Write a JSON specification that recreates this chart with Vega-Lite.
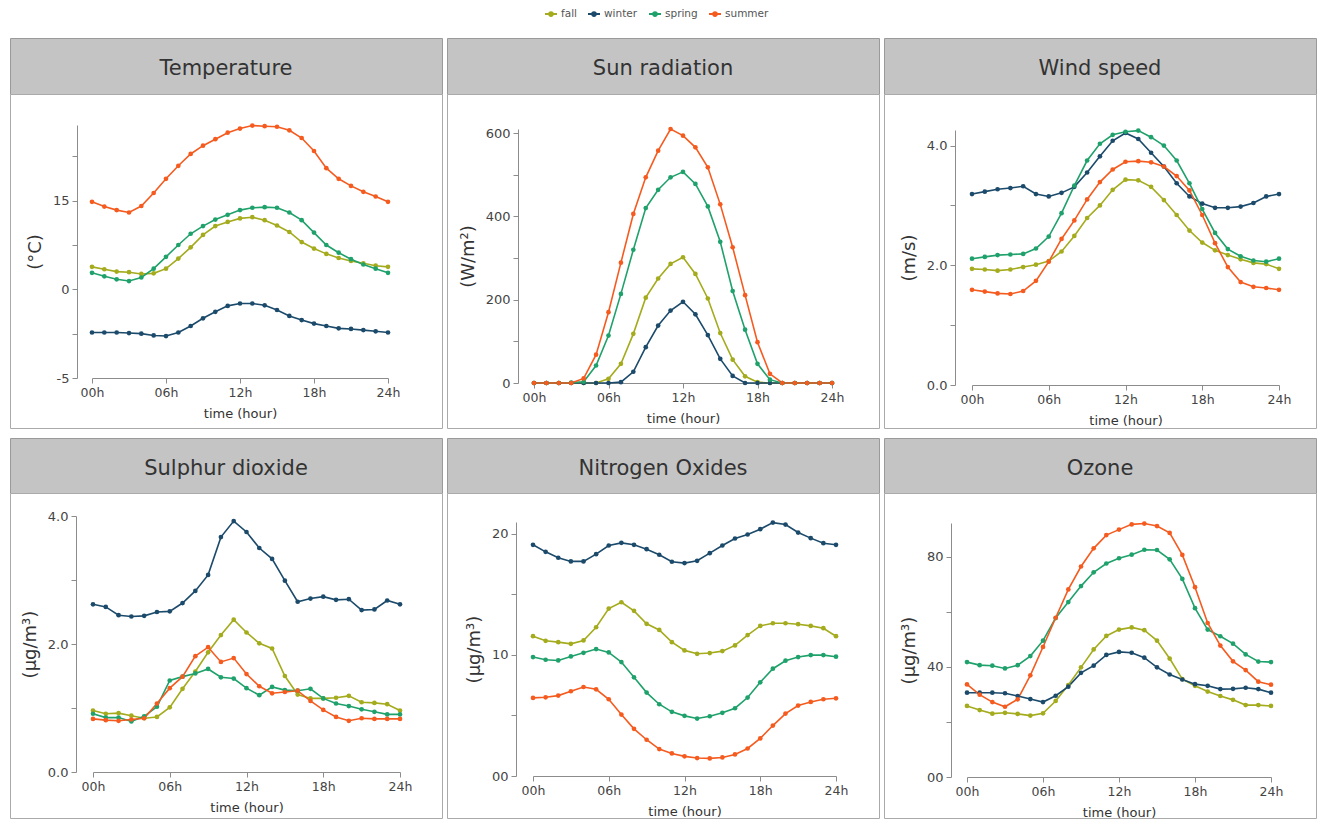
{
"$schema": "https://vega.github.io/schema/vega-lite/v6.json",
"padding": {"left": 9, "top": 7, "right": 0, "bottom": 0},
"background": "white",
"datasets": {
"temp": [
{"s":"fall","h":0,"v":3.8},{"s":"fall","h":1,"v":3.4},{"s":"fall","h":2,"v":3.0},{"s":"fall","h":3,"v":2.9},{"s":"fall","h":4,"v":2.6},{"s":"fall","h":5,"v":2.7},{"s":"fall","h":6,"v":3.5},{"s":"fall","h":7,"v":5.2},{"s":"fall","h":8,"v":7.1},{"s":"fall","h":9,"v":9.2},{"s":"fall","h":10,"v":10.7},{"s":"fall","h":11,"v":11.4},{"s":"fall","h":12,"v":12.0},{"s":"fall","h":13,"v":12.2},{"s":"fall","h":14,"v":11.7},{"s":"fall","h":15,"v":10.8},{"s":"fall","h":16,"v":9.7},{"s":"fall","h":17,"v":8.0},{"s":"fall","h":18,"v":6.9},{"s":"fall","h":19,"v":6.0},{"s":"fall","h":20,"v":5.3},{"s":"fall","h":21,"v":4.8},{"s":"fall","h":22,"v":4.4},{"s":"fall","h":23,"v":4.0},{"s":"fall","h":24,"v":3.8},
{"s":"winter","h":0,"v":-7.3},{"s":"winter","h":1,"v":-7.3},{"s":"winter","h":2,"v":-7.3},{"s":"winter","h":3,"v":-7.4},{"s":"winter","h":4,"v":-7.5},{"s":"winter","h":5,"v":-7.8},{"s":"winter","h":6,"v":-7.9},{"s":"winter","h":7,"v":-7.3},{"s":"winter","h":8,"v":-6.2},{"s":"winter","h":9,"v":-4.9},{"s":"winter","h":10,"v":-3.8},{"s":"winter","h":11,"v":-2.8},{"s":"winter","h":12,"v":-2.4},{"s":"winter","h":13,"v":-2.4},{"s":"winter","h":14,"v":-2.7},{"s":"winter","h":15,"v":-3.5},{"s":"winter","h":16,"v":-4.5},{"s":"winter","h":17,"v":-5.2},{"s":"winter","h":18,"v":-5.8},{"s":"winter","h":19,"v":-6.2},{"s":"winter","h":20,"v":-6.6},{"s":"winter","h":21,"v":-6.7},{"s":"winter","h":22,"v":-6.9},{"s":"winter","h":23,"v":-7.1},{"s":"winter","h":24,"v":-7.3},
{"s":"spring","h":0,"v":2.8},{"s":"spring","h":1,"v":2.2},{"s":"spring","h":2,"v":1.7},{"s":"spring","h":3,"v":1.4},{"s":"spring","h":4,"v":2.0},{"s":"spring","h":5,"v":3.5},{"s":"spring","h":6,"v":5.5},{"s":"spring","h":7,"v":7.5},{"s":"spring","h":8,"v":9.4},{"s":"spring","h":9,"v":10.7},{"s":"spring","h":10,"v":11.8},{"s":"spring","h":11,"v":12.6},{"s":"spring","h":12,"v":13.4},{"s":"spring","h":13,"v":13.8},{"s":"spring","h":14,"v":13.9},{"s":"spring","h":15,"v":13.8},{"s":"spring","h":16,"v":13.0},{"s":"spring","h":17,"v":11.7},{"s":"spring","h":18,"v":9.6},{"s":"spring","h":19,"v":7.5},{"s":"spring","h":20,"v":6.2},{"s":"spring","h":21,"v":5.1},{"s":"spring","h":22,"v":4.2},{"s":"spring","h":23,"v":3.5},{"s":"spring","h":24,"v":2.8},
{"s":"summer","h":0,"v":14.8},{"s":"summer","h":1,"v":14.0},{"s":"summer","h":2,"v":13.4},{"s":"summer","h":3,"v":13.0},{"s":"summer","h":4,"v":14.1},{"s":"summer","h":5,"v":16.3},{"s":"summer","h":6,"v":18.7},{"s":"summer","h":7,"v":20.9},{"s":"summer","h":8,"v":22.9},{"s":"summer","h":9,"v":24.3},{"s":"summer","h":10,"v":25.4},{"s":"summer","h":11,"v":26.5},{"s":"summer","h":12,"v":27.2},{"s":"summer","h":13,"v":27.7},{"s":"summer","h":14,"v":27.6},{"s":"summer","h":15,"v":27.5},{"s":"summer","h":16,"v":26.9},{"s":"summer","h":17,"v":25.6},{"s":"summer","h":18,"v":23.4},{"s":"summer","h":19,"v":20.5},{"s":"summer","h":20,"v":18.7},{"s":"summer","h":21,"v":17.5},{"s":"summer","h":22,"v":16.5},{"s":"summer","h":23,"v":15.7},{"s":"summer","h":24,"v":14.8}
],
"sun": [
{"s":"fall","h":0,"v":0},{"s":"fall","h":1,"v":0},{"s":"fall","h":2,"v":0},{"s":"fall","h":3,"v":0},{"s":"fall","h":4,"v":0},{"s":"fall","h":5,"v":0},{"s":"fall","h":6,"v":10},{"s":"fall","h":7,"v":46},{"s":"fall","h":8,"v":118},{"s":"fall","h":9,"v":205},{"s":"fall","h":10,"v":251},{"s":"fall","h":11,"v":286},{"s":"fall","h":12,"v":302},{"s":"fall","h":13,"v":262},{"s":"fall","h":14,"v":203},{"s":"fall","h":15,"v":120},{"s":"fall","h":16,"v":56},{"s":"fall","h":17,"v":16},{"s":"fall","h":18,"v":2},{"s":"fall","h":19,"v":0},{"s":"fall","h":20,"v":0},{"s":"fall","h":21,"v":0},{"s":"fall","h":22,"v":0},{"s":"fall","h":23,"v":0},{"s":"fall","h":24,"v":0},
{"s":"winter","h":0,"v":0},{"s":"winter","h":1,"v":0},{"s":"winter","h":2,"v":0},{"s":"winter","h":3,"v":0},{"s":"winter","h":4,"v":0},{"s":"winter","h":5,"v":0},{"s":"winter","h":6,"v":0},{"s":"winter","h":7,"v":2},{"s":"winter","h":8,"v":27},{"s":"winter","h":9,"v":86},{"s":"winter","h":10,"v":138},{"s":"winter","h":11,"v":174},{"s":"winter","h":12,"v":195},{"s":"winter","h":13,"v":165},{"s":"winter","h":14,"v":115},{"s":"winter","h":15,"v":58},{"s":"winter","h":16,"v":17},{"s":"winter","h":17,"v":0},{"s":"winter","h":18,"v":0},{"s":"winter","h":19,"v":0},{"s":"winter","h":20,"v":0},{"s":"winter","h":21,"v":0},{"s":"winter","h":22,"v":0},{"s":"winter","h":23,"v":0},{"s":"winter","h":24,"v":0},
{"s":"spring","h":0,"v":0},{"s":"spring","h":1,"v":0},{"s":"spring","h":2,"v":0},{"s":"spring","h":3,"v":1},{"s":"spring","h":4,"v":3},{"s":"spring","h":5,"v":42},{"s":"spring","h":6,"v":114},{"s":"spring","h":7,"v":214},{"s":"spring","h":8,"v":320},{"s":"spring","h":9,"v":420},{"s":"spring","h":10,"v":464},{"s":"spring","h":11,"v":494},{"s":"spring","h":12,"v":507},{"s":"spring","h":13,"v":478},{"s":"spring","h":14,"v":424},{"s":"spring","h":15,"v":339},{"s":"spring","h":16,"v":221},{"s":"spring","h":17,"v":128},{"s":"spring","h":18,"v":46},{"s":"spring","h":19,"v":8},{"s":"spring","h":20,"v":0},{"s":"spring","h":21,"v":0},{"s":"spring","h":22,"v":0},{"s":"spring","h":23,"v":0},{"s":"spring","h":24,"v":0},
{"s":"summer","h":0,"v":0},{"s":"summer","h":1,"v":0},{"s":"summer","h":2,"v":0},{"s":"summer","h":3,"v":0},{"s":"summer","h":4,"v":11},{"s":"summer","h":5,"v":68},{"s":"summer","h":6,"v":170},{"s":"summer","h":7,"v":289},{"s":"summer","h":8,"v":406},{"s":"summer","h":9,"v":494},{"s":"summer","h":10,"v":558},{"s":"summer","h":11,"v":610},{"s":"summer","h":12,"v":594},{"s":"summer","h":13,"v":566},{"s":"summer","h":14,"v":518},{"s":"summer","h":15,"v":429},{"s":"summer","h":16,"v":326},{"s":"summer","h":17,"v":211},{"s":"summer","h":18,"v":98},{"s":"summer","h":19,"v":22},{"s":"summer","h":20,"v":0},{"s":"summer","h":21,"v":0},{"s":"summer","h":22,"v":0},{"s":"summer","h":23,"v":0},{"s":"summer","h":24,"v":0}
],
"wind": [
{"s":"fall","h":0,"v":1.94},{"s":"fall","h":1,"v":1.93},{"s":"fall","h":2,"v":1.91},{"s":"fall","h":3,"v":1.93},{"s":"fall","h":4,"v":1.97},{"s":"fall","h":5,"v":2.01},{"s":"fall","h":6,"v":2.07},{"s":"fall","h":7,"v":2.23},{"s":"fall","h":8,"v":2.49},{"s":"fall","h":9,"v":2.79},{"s":"fall","h":10,"v":3.0},{"s":"fall","h":11,"v":3.26},{"s":"fall","h":12,"v":3.43},{"s":"fall","h":13,"v":3.42},{"s":"fall","h":14,"v":3.31},{"s":"fall","h":15,"v":3.09},{"s":"fall","h":16,"v":2.84},{"s":"fall","h":17,"v":2.58},{"s":"fall","h":18,"v":2.38},{"s":"fall","h":19,"v":2.25},{"s":"fall","h":20,"v":2.17},{"s":"fall","h":21,"v":2.1},{"s":"fall","h":22,"v":2.04},{"s":"fall","h":23,"v":2.02},{"s":"fall","h":24,"v":1.94},
{"s":"winter","h":0,"v":3.19},{"s":"winter","h":1,"v":3.23},{"s":"winter","h":2,"v":3.27},{"s":"winter","h":3,"v":3.29},{"s":"winter","h":4,"v":3.32},{"s":"winter","h":5,"v":3.19},{"s":"winter","h":6,"v":3.15},{"s":"winter","h":7,"v":3.21},{"s":"winter","h":8,"v":3.31},{"s":"winter","h":9,"v":3.55},{"s":"winter","h":10,"v":3.82},{"s":"winter","h":11,"v":4.08},{"s":"winter","h":12,"v":4.21},{"s":"winter","h":13,"v":4.11},{"s":"winter","h":14,"v":3.88},{"s":"winter","h":15,"v":3.65},{"s":"winter","h":16,"v":3.37},{"s":"winter","h":17,"v":3.15},{"s":"winter","h":18,"v":3.03},{"s":"winter","h":19,"v":2.96},{"s":"winter","h":20,"v":2.96},{"s":"winter","h":21,"v":2.98},{"s":"winter","h":22,"v":3.04},{"s":"winter","h":23,"v":3.15},{"s":"winter","h":24,"v":3.19},
{"s":"spring","h":0,"v":2.11},{"s":"spring","h":1,"v":2.14},{"s":"spring","h":2,"v":2.17},{"s":"spring","h":3,"v":2.18},{"s":"spring","h":4,"v":2.19},{"s":"spring","h":5,"v":2.28},{"s":"spring","h":6,"v":2.48},{"s":"spring","h":7,"v":2.87},{"s":"spring","h":8,"v":3.33},{"s":"spring","h":9,"v":3.75},{"s":"spring","h":10,"v":4.03},{"s":"spring","h":11,"v":4.18},{"s":"spring","h":12,"v":4.23},{"s":"spring","h":13,"v":4.25},{"s":"spring","h":14,"v":4.14},{"s":"spring","h":15,"v":4.0},{"s":"spring","h":16,"v":3.75},{"s":"spring","h":17,"v":3.37},{"s":"spring","h":18,"v":2.94},{"s":"spring","h":19,"v":2.54},{"s":"spring","h":20,"v":2.27},{"s":"spring","h":21,"v":2.15},{"s":"spring","h":22,"v":2.08},{"s":"spring","h":23,"v":2.06},{"s":"spring","h":24,"v":2.11},
{"s":"summer","h":0,"v":1.59},{"s":"summer","h":1,"v":1.56},{"s":"summer","h":2,"v":1.53},{"s":"summer","h":3,"v":1.52},{"s":"summer","h":4,"v":1.57},{"s":"summer","h":5,"v":1.74},{"s":"summer","h":6,"v":2.06},{"s":"summer","h":7,"v":2.44},{"s":"summer","h":8,"v":2.75},{"s":"summer","h":9,"v":3.1},{"s":"summer","h":10,"v":3.39},{"s":"summer","h":11,"v":3.6},{"s":"summer","h":12,"v":3.73},{"s":"summer","h":13,"v":3.74},{"s":"summer","h":14,"v":3.72},{"s":"summer","h":15,"v":3.65},{"s":"summer","h":16,"v":3.49},{"s":"summer","h":17,"v":3.25},{"s":"summer","h":18,"v":2.84},{"s":"summer","h":19,"v":2.37},{"s":"summer","h":20,"v":1.97},{"s":"summer","h":21,"v":1.72},{"s":"summer","h":22,"v":1.64},{"s":"summer","h":23,"v":1.62},{"s":"summer","h":24,"v":1.59}
],
"so2": [
{"s":"fall","h":0,"v":0.96},{"s":"fall","h":1,"v":0.91},{"s":"fall","h":2,"v":0.92},{"s":"fall","h":3,"v":0.88},{"s":"fall","h":4,"v":0.84},{"s":"fall","h":5,"v":0.86},{"s":"fall","h":6,"v":1.01},{"s":"fall","h":7,"v":1.30},{"s":"fall","h":8,"v":1.57},{"s":"fall","h":9,"v":1.87},{"s":"fall","h":10,"v":2.14},{"s":"fall","h":11,"v":2.38},{"s":"fall","h":12,"v":2.18},{"s":"fall","h":13,"v":2.01},{"s":"fall","h":14,"v":1.93},{"s":"fall","h":15,"v":1.50},{"s":"fall","h":16,"v":1.21},{"s":"fall","h":17,"v":1.15},{"s":"fall","h":18,"v":1.15},{"s":"fall","h":19,"v":1.16},{"s":"fall","h":20,"v":1.19},{"s":"fall","h":21,"v":1.09},{"s":"fall","h":22,"v":1.08},{"s":"fall","h":23,"v":1.06},{"s":"fall","h":24,"v":0.96},
{"s":"winter","h":0,"v":2.62},{"s":"winter","h":1,"v":2.58},{"s":"winter","h":2,"v":2.45},{"s":"winter","h":3,"v":2.43},{"s":"winter","h":4,"v":2.44},{"s":"winter","h":5,"v":2.5},{"s":"winter","h":6,"v":2.51},{"s":"winter","h":7,"v":2.64},{"s":"winter","h":8,"v":2.83},{"s":"winter","h":9,"v":3.08},{"s":"winter","h":10,"v":3.67},{"s":"winter","h":11,"v":3.92},{"s":"winter","h":12,"v":3.75},{"s":"winter","h":13,"v":3.5},{"s":"winter","h":14,"v":3.33},{"s":"winter","h":15,"v":2.99},{"s":"winter","h":16,"v":2.66},{"s":"winter","h":17,"v":2.71},{"s":"winter","h":18,"v":2.74},{"s":"winter","h":19,"v":2.69},{"s":"winter","h":20,"v":2.7},{"s":"winter","h":21,"v":2.53},{"s":"winter","h":22,"v":2.54},{"s":"winter","h":23,"v":2.68},{"s":"winter","h":24,"v":2.62},
{"s":"spring","h":0,"v":0.91},{"s":"spring","h":1,"v":0.85},{"s":"spring","h":2,"v":0.85},{"s":"spring","h":3,"v":0.79},{"s":"spring","h":4,"v":0.87},{"s":"spring","h":5,"v":1.02},{"s":"spring","h":6,"v":1.43},{"s":"spring","h":7,"v":1.49},{"s":"spring","h":8,"v":1.54},{"s":"spring","h":9,"v":1.61},{"s":"spring","h":10,"v":1.48},{"s":"spring","h":11,"v":1.46},{"s":"spring","h":12,"v":1.31},{"s":"spring","h":13,"v":1.20},{"s":"spring","h":14,"v":1.33},{"s":"spring","h":15,"v":1.28},{"s":"spring","h":16,"v":1.27},{"s":"spring","h":17,"v":1.30},{"s":"spring","h":18,"v":1.15},{"s":"spring","h":19,"v":1.07},{"s":"spring","h":20,"v":1.03},{"s":"spring","h":21,"v":0.98},{"s":"spring","h":22,"v":0.94},{"s":"spring","h":23,"v":0.90},{"s":"spring","h":24,"v":0.90},
{"s":"summer","h":0,"v":0.83},{"s":"summer","h":1,"v":0.81},{"s":"summer","h":2,"v":0.80},{"s":"summer","h":3,"v":0.82},{"s":"summer","h":4,"v":0.84},{"s":"summer","h":5,"v":1.07},{"s":"summer","h":6,"v":1.31},{"s":"summer","h":7,"v":1.49},{"s":"summer","h":8,"v":1.81},{"s":"summer","h":9,"v":1.95},{"s":"summer","h":10,"v":1.72},{"s":"summer","h":11,"v":1.78},{"s":"summer","h":12,"v":1.53},{"s":"summer","h":13,"v":1.34},{"s":"summer","h":14,"v":1.23},{"s":"summer","h":15,"v":1.25},{"s":"summer","h":16,"v":1.27},{"s":"summer","h":17,"v":1.11},{"s":"summer","h":18,"v":0.97},{"s":"summer","h":19,"v":0.86},{"s":"summer","h":20,"v":0.80},{"s":"summer","h":21,"v":0.84},{"s":"summer","h":22,"v":0.83},{"s":"summer","h":23,"v":0.83},{"s":"summer","h":24,"v":0.83}
],
"nox": [
{"s":"fall","h":0,"v":11.53},{"s":"fall","h":1,"v":11.15},{"s":"fall","h":2,"v":11.04},{"s":"fall","h":3,"v":10.9},{"s":"fall","h":4,"v":11.18},{"s":"fall","h":5,"v":12.27},{"s":"fall","h":6,"v":13.81},{"s":"fall","h":7,"v":14.33},{"s":"fall","h":8,"v":13.62},{"s":"fall","h":9,"v":12.55},{"s":"fall","h":10,"v":12.05},{"s":"fall","h":11,"v":11.04},{"s":"fall","h":12,"v":10.36},{"s":"fall","h":13,"v":10.08},{"s":"fall","h":14,"v":10.14},{"s":"fall","h":15,"v":10.3},{"s":"fall","h":16,"v":10.77},{"s":"fall","h":17,"v":11.62},{"s":"fall","h":18,"v":12.38},{"s":"fall","h":19,"v":12.6},{"s":"fall","h":20,"v":12.6},{"s":"fall","h":21,"v":12.52},{"s":"fall","h":22,"v":12.38},{"s":"fall","h":23,"v":12.19},{"s":"fall","h":24,"v":11.53},
{"s":"winter","h":0,"v":19.07},{"s":"winter","h":1,"v":18.49},{"s":"winter","h":2,"v":18.0},{"s":"winter","h":3,"v":17.7},{"s":"winter","h":4,"v":17.7},{"s":"winter","h":5,"v":18.3},{"s":"winter","h":6,"v":19.01},{"s":"winter","h":7,"v":19.23},{"s":"winter","h":8,"v":19.07},{"s":"winter","h":9,"v":18.71},{"s":"winter","h":10,"v":18.25},{"s":"winter","h":11,"v":17.67},{"s":"winter","h":12,"v":17.56},{"s":"winter","h":13,"v":17.75},{"s":"winter","h":14,"v":18.38},{"s":"winter","h":15,"v":19.01},{"s":"winter","h":16,"v":19.59},{"s":"winter","h":17,"v":19.92},{"s":"winter","h":18,"v":20.36},{"s":"winter","h":19,"v":20.9},{"s":"winter","h":20,"v":20.74},{"s":"winter","h":21,"v":20.08},{"s":"winter","h":22,"v":19.62},{"s":"winter","h":23,"v":19.2},{"s":"winter","h":24,"v":19.07},
{"s":"spring","h":0,"v":9.81},{"s":"spring","h":1,"v":9.59},{"s":"spring","h":2,"v":9.53},{"s":"spring","h":3,"v":9.86},{"s":"spring","h":4,"v":10.16},{"s":"spring","h":5,"v":10.47},{"s":"spring","h":6,"v":10.19},{"s":"spring","h":7,"v":9.4},{"s":"spring","h":8,"v":8.14},{"s":"spring","h":9,"v":6.88},{"s":"spring","h":10,"v":5.92},{"s":"spring","h":11,"v":5.29},{"s":"spring","h":12,"v":4.96},{"s":"spring","h":13,"v":4.74},{"s":"spring","h":14,"v":4.93},{"s":"spring","h":15,"v":5.21},{"s":"spring","h":16,"v":5.59},{"s":"spring","h":17,"v":6.47},{"s":"spring","h":18,"v":7.73},{"s":"spring","h":19,"v":8.85},{"s":"spring","h":20,"v":9.51},{"s":"spring","h":21,"v":9.81},{"s":"spring","h":22,"v":9.97},{"s":"spring","h":23,"v":9.97},{"s":"spring","h":24,"v":9.84},
{"s":"summer","h":0,"v":6.44},{"s":"summer","h":1,"v":6.49},{"s":"summer","h":2,"v":6.63},{"s":"summer","h":3,"v":6.99},{"s":"summer","h":4,"v":7.34},{"s":"summer","h":5,"v":7.15},{"s":"summer","h":6,"v":6.33},{"s":"summer","h":7,"v":5.07},{"s":"summer","h":8,"v":3.89},{"s":"summer","h":9,"v":2.99},{"s":"summer","h":10,"v":2.22},{"s":"summer","h":11,"v":1.86},{"s":"summer","h":12,"v":1.62},{"s":"summer","h":13,"v":1.48},{"s":"summer","h":14,"v":1.45},{"s":"summer","h":15,"v":1.53},{"s":"summer","h":16,"v":1.78},{"s":"summer","h":17,"v":2.27},{"s":"summer","h":18,"v":3.1},{"s":"summer","h":19,"v":4.16},{"s":"summer","h":20,"v":5.15},{"s":"summer","h":21,"v":5.81},{"s":"summer","h":22,"v":6.11},{"s":"summer","h":23,"v":6.33},{"s":"summer","h":24,"v":6.41}
],
"ozone": [
{"s":"fall","h":0,"v":25.8},{"s":"fall","h":1,"v":24.3},{"s":"fall","h":2,"v":23.0},{"s":"fall","h":3,"v":23.3},{"s":"fall","h":4,"v":22.9},{"s":"fall","h":5,"v":22.3},{"s":"fall","h":6,"v":23.1},{"s":"fall","h":7,"v":27.6},{"s":"fall","h":8,"v":33.4},{"s":"fall","h":9,"v":39.8},{"s":"fall","h":10,"v":46.3},{"s":"fall","h":11,"v":51.2},{"s":"fall","h":12,"v":53.5},{"s":"fall","h":13,"v":54.3},{"s":"fall","h":14,"v":53.3},{"s":"fall","h":15,"v":49.5},{"s":"fall","h":16,"v":43.0},{"s":"fall","h":17,"v":35.5},{"s":"fall","h":18,"v":33.1},{"s":"fall","h":19,"v":31.0},{"s":"fall","h":20,"v":29.4},{"s":"fall","h":21,"v":28.0},{"s":"fall","h":22,"v":26.1},{"s":"fall","h":23,"v":26.1},{"s":"fall","h":24,"v":25.8},
{"s":"winter","h":0,"v":30.6},{"s":"winter","h":1,"v":30.6},{"s":"winter","h":2,"v":30.6},{"s":"winter","h":3,"v":30.4},{"s":"winter","h":4,"v":29.4},{"s":"winter","h":5,"v":28.3},{"s":"winter","h":6,"v":27.2},{"s":"winter","h":7,"v":29.5},{"s":"winter","h":8,"v":32.8},{"s":"winter","h":9,"v":37.8},{"s":"winter","h":10,"v":40.4},{"s":"winter","h":11,"v":44.3},{"s":"winter","h":12,"v":45.4},{"s":"winter","h":13,"v":45.1},{"s":"winter","h":14,"v":43.3},{"s":"winter","h":15,"v":39.8},{"s":"winter","h":16,"v":37.2},{"s":"winter","h":17,"v":35.4},{"s":"winter","h":18,"v":33.7},{"s":"winter","h":19,"v":33.1},{"s":"winter","h":20,"v":31.9},{"s":"winter","h":21,"v":32.0},{"s":"winter","h":22,"v":32.4},{"s":"winter","h":23,"v":31.9},{"s":"winter","h":24,"v":30.6},
{"s":"spring","h":0,"v":41.7},{"s":"spring","h":1,"v":40.6},{"s":"spring","h":2,"v":40.4},{"s":"spring","h":3,"v":39.4},{"s":"spring","h":4,"v":40.6},{"s":"spring","h":5,"v":43.9},{"s":"spring","h":6,"v":49.5},{"s":"spring","h":7,"v":57.7},{"s":"spring","h":8,"v":63.5},{"s":"spring","h":9,"v":69.3},{"s":"spring","h":10,"v":74.3},{"s":"spring","h":11,"v":77.5},{"s":"spring","h":12,"v":79.4},{"s":"spring","h":13,"v":80.7},{"s":"spring","h":14,"v":82.5},{"s":"spring","h":15,"v":82.4},{"s":"spring","h":16,"v":79.0},{"s":"spring","h":17,"v":71.9},{"s":"spring","h":18,"v":61.3},{"s":"spring","h":19,"v":53.5},{"s":"spring","h":20,"v":51.1},{"s":"spring","h":21,"v":48.4},{"s":"spring","h":22,"v":44.5},{"s":"spring","h":23,"v":41.9},{"s":"spring","h":24,"v":41.7},
{"s":"summer","h":0,"v":33.6},{"s":"summer","h":1,"v":29.9},{"s":"summer","h":2,"v":27.2},{"s":"summer","h":3,"v":25.5},{"s":"summer","h":4,"v":28.2},{"s":"summer","h":5,"v":36.9},{"s":"summer","h":6,"v":47.2},{"s":"summer","h":7,"v":57.8},{"s":"summer","h":8,"v":68.1},{"s":"summer","h":9,"v":76.4},{"s":"summer","h":10,"v":83.0},{"s":"summer","h":11,"v":87.8},{"s":"summer","h":12,"v":89.8},{"s":"summer","h":13,"v":91.7},{"s":"summer","h":14,"v":92.0},{"s":"summer","h":15,"v":91.1},{"s":"summer","h":16,"v":88.6},{"s":"summer","h":17,"v":80.6},{"s":"summer","h":18,"v":68.9},{"s":"summer","h":19,"v":55.9},{"s":"summer","h":20,"v":47.7},{"s":"summer","h":21,"v":42.0},{"s":"summer","h":22,"v":38.8},{"s":"summer","h":23,"v":34.6},{"s":"summer","h":24,"v":33.5}
]
},
"spacing": 8,
"vconcat": [
{"spacing": 3, "hconcat": [
 {"spacing": 0, "bounds": "flush", "vconcat": [
  {"width": 432, "height": 56, "view": {"fill": "#c4c4c4", "stroke": "#9a9a9a"}, "data": {"values": [{"t": "Temperature"}]}, "mark": {"type": "text", "fontSize": 21, "color": "#333333", "dy": 3}, "encoding": {"text": {"field": "t"}}},
  {"width": 432, "height": 334, "view": {"fill": "white", "stroke": "#aaaaaa"}, "data": {"name": "temp"},
   "mark": {"type": "line", "strokeWidth": 1.6, "point": {"filled": true, "size": 22}},
   "encoding": {
    "x": {"field": "h", "type": "quantitative", "scale": {"domain": [0, 24], "range": [82, 378], "nice": false}, "axis": {"values": [0, 6, 12, 18, 24], "labelExpr": "(datum.value < 10 ? '0' : '') + datum.value + 'h'", "title": "time (hour)", "offset": -50}},
    "y": {"field": "v", "type": "quantitative", "scale": {"domain": [-15, 27.8], "range": [284, 31], "nice": false, "zero": false}, "axis": {"values": [-15, -7.5, 0, 7.5, 15, 22.5], "labelExpr": "datum.value == 15 ? '15' : datum.value == 0 ? '0' : datum.value == -15 ? '-5' : ''", "title": "(°C)", "offset": -67}},
    "color": {"field": "s", "type": "nominal", "scale": {"domain": ["fall", "winter", "spring", "summer"], "range": ["#a4ab1c", "#1b4a6b", "#1fa16b", "#f55b1f"]}, "legend": {"title": null, "orient": "none", "legendX": 534, "legendY": -31, "direction": "horizontal", "symbolType": "M-1,0H1M-0.3,0A0.3,0.3,0,1,0,0.3,0A0.3,0.3,0,1,0,-0.3,0Z", "symbolSize": 144, "symbolStrokeWidth": 2, "labelFontSize": 10.5, "labelColor": "#555555", "columnPadding": 7, "labelOffset": 3}}
   }}
 ]},
 {"spacing": 0, "bounds": "flush", "vconcat": [
  {"width": 432, "height": 56, "view": {"fill": "#c4c4c4", "stroke": "#9a9a9a"}, "data": {"values": [{"t": "Sun radiation"}]}, "mark": {"type": "text", "fontSize": 21, "color": "#333333", "dy": 3}, "encoding": {"text": {"field": "t"}}},
  {"width": 432, "height": 334, "view": {"fill": "white", "stroke": "#aaaaaa"}, "data": {"name": "sun"},
   "mark": {"type": "line", "strokeWidth": 1.6, "point": {"filled": true, "size": 22}},
   "encoding": {
    "x": {"field": "h", "type": "quantitative", "scale": {"domain": [0, 24], "range": [87, 385], "nice": false}, "axis": {"values": [0, 6, 12, 18, 24], "labelExpr": "(datum.value < 10 ? '0' : '') + datum.value + 'h'", "title": "time (hour)", "offset": -45}},
    "y": {"field": "v", "type": "quantitative", "scale": {"domain": [0, 610], "range": [289, 35], "nice": false, "zero": false}, "axis": {"values": [0, 100, 200, 300, 400, 500, 600], "labelExpr": "datum.value % 200 == 0 ? datum.label : ''", "title": "(W/m²)", "offset": -71}},
    "color": {"field": "s", "type": "nominal", "scale": {"domain": ["fall", "winter", "spring", "summer"], "range": ["#a4ab1c", "#1b4a6b", "#1fa16b", "#f55b1f"]}, "legend": {"title": null, "orient": "none", "legendX": 534, "legendY": -31, "direction": "horizontal", "symbolType": "M-1,0H1M-0.3,0A0.3,0.3,0,1,0,0.3,0A0.3,0.3,0,1,0,-0.3,0Z", "symbolSize": 144, "symbolStrokeWidth": 2, "labelFontSize": 10.5, "labelColor": "#555555", "columnPadding": 7, "labelOffset": 3}}
   }}
 ]},
 {"spacing": 0, "bounds": "flush", "vconcat": [
  {"width": 432, "height": 56, "view": {"fill": "#c4c4c4", "stroke": "#9a9a9a"}, "data": {"values": [{"t": "Wind speed"}]}, "mark": {"type": "text", "fontSize": 21, "color": "#333333", "dy": 3}, "encoding": {"text": {"field": "t"}}},
  {"width": 432, "height": 334, "view": {"fill": "white", "stroke": "#aaaaaa"}, "data": {"name": "wind"},
   "mark": {"type": "line", "strokeWidth": 1.6, "point": {"filled": true, "size": 22}},
   "encoding": {
    "x": {"field": "h", "type": "quantitative", "scale": {"domain": [0, 24], "range": [88, 395], "nice": false}, "axis": {"values": [0, 6, 12, 18, 24], "labelExpr": "(datum.value < 10 ? '0' : '') + datum.value + 'h'", "title": "time (hour)", "offset": -43}},
    "y": {"field": "v", "type": "quantitative", "scale": {"domain": [0, 4.26], "range": [291, 36], "nice": false, "zero": false}, "axis": {"values": [0, 1, 2, 3, 4], "labelExpr": "datum.value % 2 == 0 ? format(datum.value, '.1f') : ''", "title": "(m/s)", "offset": -71}},
    "color": {"field": "s", "type": "nominal", "scale": {"domain": ["fall", "winter", "spring", "summer"], "range": ["#a4ab1c", "#1b4a6b", "#1fa16b", "#f55b1f"]}, "legend": {"title": null, "orient": "none", "legendX": 534, "legendY": -31, "direction": "horizontal", "symbolType": "M-1,0H1M-0.3,0A0.3,0.3,0,1,0,0.3,0A0.3,0.3,0,1,0,-0.3,0Z", "symbolSize": 144, "symbolStrokeWidth": 2, "labelFontSize": 10.5, "labelColor": "#555555", "columnPadding": 7, "labelOffset": 3}}
   }}
 ]}
]},
{"spacing": 3, "hconcat": [
 {"spacing": 0, "bounds": "flush", "vconcat": [
  {"width": 432, "height": 55, "view": {"fill": "#c4c4c4", "stroke": "#9a9a9a"}, "data": {"values": [{"t": "Sulphur dioxide"}]}, "mark": {"type": "text", "fontSize": 21, "color": "#333333", "dy": 3}, "encoding": {"text": {"field": "t"}}},
  {"width": 432, "height": 325, "view": {"fill": "white", "stroke": "#aaaaaa"}, "data": {"name": "so2"},
   "mark": {"type": "line", "strokeWidth": 1.6, "point": {"filled": true, "size": 22}},
   "encoding": {
    "x": {"field": "h", "type": "quantitative", "scale": {"domain": [0, 24], "range": [83, 390], "nice": false}, "axis": {"values": [0, 6, 12, 18, 24], "labelExpr": "(datum.value < 10 ? '0' : '') + datum.value + 'h'", "title": "time (hour)", "offset": -46}},
    "y": {"field": "v", "type": "quantitative", "scale": {"domain": [0, 4.0], "range": [279, 23], "nice": false, "zero": false}, "axis": {"values": [0, 1, 2, 3, 4], "labelExpr": "datum.value % 2 == 0 ? format(datum.value, '.1f') : ''", "title": "(μg/m³)", "offset": -66}},
    "color": {"field": "s", "type": "nominal", "scale": {"domain": ["fall", "winter", "spring", "summer"], "range": ["#a4ab1c", "#1b4a6b", "#1fa16b", "#f55b1f"]}, "legend": {"title": null, "orient": "none", "legendX": 534, "legendY": -31, "direction": "horizontal", "symbolType": "M-1,0H1M-0.3,0A0.3,0.3,0,1,0,0.3,0A0.3,0.3,0,1,0,-0.3,0Z", "symbolSize": 144, "symbolStrokeWidth": 2, "labelFontSize": 10.5, "labelColor": "#555555", "columnPadding": 7, "labelOffset": 3}}
   }}
 ]},
 {"spacing": 0, "bounds": "flush", "vconcat": [
  {"width": 432, "height": 55, "view": {"fill": "#c4c4c4", "stroke": "#9a9a9a"}, "data": {"values": [{"t": "Nitrogen Oxides"}]}, "mark": {"type": "text", "fontSize": 21, "color": "#333333", "dy": 3}, "encoding": {"text": {"field": "t"}}},
  {"width": 432, "height": 325, "view": {"fill": "white", "stroke": "#aaaaaa"}, "data": {"name": "nox"},
   "mark": {"type": "line", "strokeWidth": 1.6, "point": {"filled": true, "size": 22}},
   "encoding": {
    "x": {"field": "h", "type": "quantitative", "scale": {"domain": [0, 24], "range": [86, 389], "nice": false}, "axis": {"values": [0, 6, 12, 18, 24], "labelExpr": "(datum.value < 10 ? '0' : '') + datum.value + 'h'", "title": "time (hour)", "offset": -42}},
    "y": {"field": "v", "type": "quantitative", "scale": {"domain": [0, 20.95], "range": [283, 29], "nice": false, "zero": false}, "axis": {"values": [0, 5, 10, 15, 20], "labelExpr": "datum.value % 10 == 0 ? format(datum.value, '02d') : ''", "title": "(μg/m³)", "offset": -69}},
    "color": {"field": "s", "type": "nominal", "scale": {"domain": ["fall", "winter", "spring", "summer"], "range": ["#a4ab1c", "#1b4a6b", "#1fa16b", "#f55b1f"]}, "legend": {"title": null, "orient": "none", "legendX": 534, "legendY": -31, "direction": "horizontal", "symbolType": "M-1,0H1M-0.3,0A0.3,0.3,0,1,0,0.3,0A0.3,0.3,0,1,0,-0.3,0Z", "symbolSize": 144, "symbolStrokeWidth": 2, "labelFontSize": 10.5, "labelColor": "#555555", "columnPadding": 7, "labelOffset": 3}}
   }}
 ]},
 {"spacing": 0, "bounds": "flush", "vconcat": [
  {"width": 432, "height": 55, "view": {"fill": "#c4c4c4", "stroke": "#9a9a9a"}, "data": {"values": [{"t": "Ozone"}]}, "mark": {"type": "text", "fontSize": 21, "color": "#333333", "dy": 3}, "encoding": {"text": {"field": "t"}}},
  {"width": 432, "height": 325, "view": {"fill": "white", "stroke": "#aaaaaa"}, "data": {"name": "ozone"},
   "mark": {"type": "line", "strokeWidth": 1.6, "point": {"filled": true, "size": 22}},
   "encoding": {
    "x": {"field": "h", "type": "quantitative", "scale": {"domain": [0, 24], "range": [83, 387], "nice": false}, "axis": {"values": [0, 6, 12, 18, 24], "labelExpr": "(datum.value < 10 ? '0' : '') + datum.value + 'h'", "title": "time (hour)", "offset": -41}},
    "y": {"field": "v", "type": "quantitative", "scale": {"domain": [0, 92.2], "range": [284, 30], "nice": false, "zero": false}, "axis": {"values": [0, 20, 40, 60, 80], "labelExpr": "datum.value % 40 == 0 ? format(datum.value, '02d') : ''", "title": "(μg/m³)", "offset": -67}},
    "color": {"field": "s", "type": "nominal", "scale": {"domain": ["fall", "winter", "spring", "summer"], "range": ["#a4ab1c", "#1b4a6b", "#1fa16b", "#f55b1f"]}, "legend": {"title": null, "orient": "none", "legendX": 534, "legendY": -31, "direction": "horizontal", "symbolType": "M-1,0H1M-0.3,0A0.3,0.3,0,1,0,0.3,0A0.3,0.3,0,1,0,-0.3,0Z", "symbolSize": 144, "symbolStrokeWidth": 2, "labelFontSize": 10.5, "labelColor": "#555555", "columnPadding": 7, "labelOffset": 3}}
   }}
 ]}
]}
],
"config": {
 "font": "DejaVu Sans",
 "axis": {"grid": false, "domainColor": "#8c8c8c", "tickColor": "#8c8c8c", "labelColor": "#444444", "titleColor": "#333333", "titleFontWeight": "normal", "tickSize": 5, "labelPadding": 3, "labelFlush": false},
 "axisX": {"labelFontSize": 12.5, "titleFontSize": 13, "titlePadding": 9},
 "axisY": {"labelFontSize": 13, "titleFontSize": 18, "titlePadding": 8}
}
}
